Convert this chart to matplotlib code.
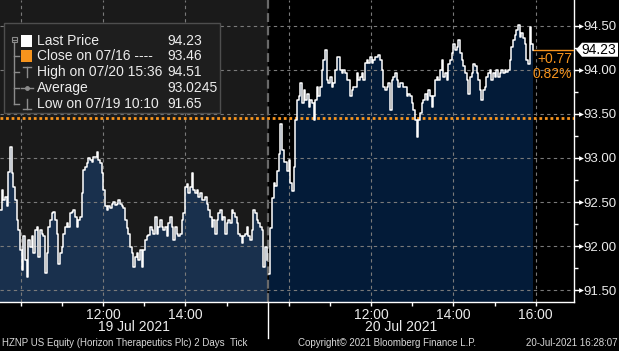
import numpy as np
import matplotlib
matplotlib.use('Agg')
import matplotlib.pyplot as plt
from matplotlib.patches import Polygon, Rectangle
from matplotlib.lines import Line2D
from matplotlib.transforms import blended_transform_factory

plt.rcParams['font.family'] = ['Liberation Sans', 'DejaVu Sans']

# HZNP ticks (about every 2.4 minutes)
day1_prices = [
    92.41, 92.64, 92.52, 92.56, 92.45, 92.84, 93.13, 92.83, 92.67, 92.52,
    92.30, 92.18, 91.95, 91.73, 92.11, 91.84, 91.65, 92.07, 91.99, 92.11,
    91.92, 92.18, 92.22, 91.88, 92.18, 92.14, 92.11, 91.69, 91.92, 92.22,
    92.30, 92.37, 92.39, 92.30, 92.14, 91.80, 91.92, 91.99, 92.14, 92.22,
    92.26, 92.22, 92.37, 92.39, 92.41, 92.33, 92.22, 92.30, 92.33, 92.60,
    92.86, 92.90, 92.94, 93.00, 92.98, 92.96, 93.01, 93.01, 93.07, 92.98,
    92.94, 92.83, 92.64, 92.45, 92.41, 92.45, 92.43, 92.48, 92.50, 92.47,
    92.48, 92.52, 92.48, 92.45, 92.43, 92.30, 92.20, 92.14, 91.99, 91.92,
    91.76, 91.88, 91.92, 91.84, 91.95, 91.76, 91.95, 92.07, 92.11, 92.12,
    92.22, 92.18, 92.14, 92.33, 92.14, 92.22, 92.30, 92.22, 92.18, 92.22,
    92.11, 92.26, 92.33, 92.22, 92.07, 92.22, 92.14, 92.11, 92.14, 92.30,
    92.37, 92.67, 92.71, 92.60, 92.67, 92.83, 92.64, 92.60, 92.64, 92.56,
    92.60, 92.52, 92.52, 92.56, 92.48, 92.41, 92.33, 92.22, 92.30, 92.14,
    92.30, 92.37, 92.41, 92.30, 92.33, 92.14, 92.26, 92.30, 92.26, 92.41,
    92.37, 92.33, 92.26, 92.14, 92.11, 92.03, 92.11, 92.14, 92.22, 92.11,
    92.07, 92.18, 92.41, 92.37, 92.30, 92.26, 92.22, 92.18, 91.76, 91.99,
    91.84,
]
day2_prices = [
    91.68, 92.20, 92.55, 92.72, 92.68, 92.85, 93.05, 93.39, 93.09, 92.96,
    92.95, 92.85, 92.98, 92.72, 92.62, 92.90, 93.43, 93.66, 93.70, 93.85,
    93.62, 93.77, 93.66, 93.73, 93.58, 93.66, 93.62, 93.43, 93.66, 93.81,
    93.70, 93.81, 94.00, 94.11, 94.23, 93.89, 93.85, 93.92, 93.81, 93.85,
    94.00, 94.15, 94.15, 94.00, 93.96, 94.00,
    93.96, 93.89, 93.89, 93.70, 93.77, 93.81, 93.81, 93.96, 93.89, 93.92,
    93.96, 93.89, 94.08, 94.11, 94.08, 94.15, 94.08, 94.11, 94.15, 94.15,
    94.17, 94.11, 94.00, 93.81, 93.77, 93.81, 93.85, 93.55, 93.89, 93.92,
    93.96, 93.89, 93.81, 93.85, 93.85, 93.81, 93.81, 93.70, 93.73, 93.70,
    93.62, 93.55, 93.43, 93.24, 93.43, 93.51, 93.62, 93.66,
    93.73, 93.66, 93.77, 93.70, 93.58, 93.70, 93.89, 93.92, 93.89, 94.00,
    94.11, 93.92, 93.96, 93.89, 94.07, 94.11, 94.19, 94.30, 94.23, 94.26,
    94.34, 94.19, 94.11, 94.04, 93.96, 93.89, 93.73, 93.92, 93.96, 94.07,
    94.04, 93.96, 93.89, 93.77, 93.66, 93.77, 93.81, 93.92, 93.96, 94.00,
    93.89, 93.96, 93.92, 94.00, 93.92, 93.96, 94.00, 93.96, 94.00, 93.98,
    94.00, 94.11, 94.26, 94.34, 94.40, 94.45, 94.51, 94.38, 94.42, 94.36,
    94.30, 94.11, 94.07, 94.49, 94.30, 94.23,
]
# minutes after 9:30 of each session
day1_times = np.linspace(0, 388, len(day1_prices))
day2_times = np.linspace(1, 386, len(day2_prices))

last_price = 94.23
prev_close = 93.46

y_ticks = [91.5, 92.0, 92.5, 93.0, 93.5, 94.0, 94.5]
y_minor = [91.75, 92.25, 92.75, 93.25, 93.75, 94.25]
hour_ticks = [30, 90, 150, 210, 270, 330, 420, 480, 540, 600, 660, 720, 780]
label_ticks = [150, 270, 540, 660, 780]
label_text = ['12:00', '14:00', '12:00', '14:00', '16:00']
grid_x = [30, 150, 270, 420, 540, 660, 780]
day_labels = ['19 Jul 2021', '20 Jul 2021']

legend_labels = ['Last Price', 'Close on 07/16 ----', 'High on 07/20 15:36',
                 'Average', 'Low on 07/19 10:10']
legend_values = ['94.23', '93.46', '94.51', '93.0245', '91.65']

BG1 = '#1a1a1a'
FILL1 = '#19304d'
FILL2 = '#031b38'
ORANGE = '#f7941d'
GRID = '#7a7a7a'
TXT = '#ececec'

W, H = 619, 351
XMAX = 835.6
YMIN, YMAX = 91.364, 94.795


def fx(x):
    return x / W


def fy(y):
    return 1 - y / H


fig = plt.figure(figsize=(W / 100, H / 100), dpi=100, facecolor='black')
ax = fig.add_axes([0, fy(302), fx(574), 302 / H])
ax.set_facecolor('black')
ax.set_xlim(0, XMAX)
ax.set_ylim(YMIN, YMAX)
ax.axvspan(0, 390, color=BG1, lw=0, zorder=0)

# the two sessions
t2 = 390 + day2_times
ax.fill_between(day1_times, day1_prices, YMIN, step='post', color=FILL1, lw=0, zorder=1)
ax.fill_between(t2, day2_prices, YMIN, step='post', color=FILL2, lw=0, zorder=1)
ax.plot(day1_times, day1_prices, drawstyle='steps-post', color='white', lw=1.1, zorder=4)
ax.plot(t2, day2_prices, drawstyle='steps-post', color='white', lw=1.1, zorder=4)

# grid
for y in y_ticks:
    ax.axhline(y, color=GRID, lw=0.8, ls=(0, (3, 3)), zorder=2)
for x in grid_x:
    ax.axvline(x, color=GRID, lw=0.8, ls=(0, (3, 3)), zorder=2)
ax.axvline(390, color='#6a6a6a', lw=1.6, ls=(0, (4, 2)), zorder=2.5)

# previous close and last price
ax.axhline(prev_close, color=ORANGE, lw=2, ls=(0, (1, 1)), zorder=3)
ax.plot([t2[-1], XMAX], [last_price, last_price], color=ORANGE, lw=1, zorder=3)

for s in ['left', 'top']:
    ax.spines[s].set_visible(False)
for s in ['right', 'bottom']:
    ax.spines[s].set_color('white')
    ax.spines[s].set_linewidth(1)

ax.yaxis.tick_right()
ax.set_yticks(y_ticks, ['%.2f' % v for v in y_ticks])
ax.set_yticks(y_minor, minor=True)
ax.tick_params(axis='y', which='major', length=4.3, width=1, colors='white',
               labelcolor=TXT, labelsize=9.5, pad=2.5)
ax.tick_params(axis='y', which='minor', length=3, width=1, colors='white')
ax.set_xticks(label_ticks, label_text)
ax.set_xticks(hour_ticks, minor=True)
ax.tick_params(axis='x', which='both', length=3, width=1, colors='white',
               labelcolor=TXT, labelsize=10, pad=1)

bt = blended_transform_factory(ax.transAxes, ax.transData)
for y in y_ticks:
    ax.plot([581 / 574], [y], marker='>', ms=3.5, color='white', mec='none',
            transform=bt, clip_on=False)

# last price tag on the axis
py = 1 / 88
tag = Polygon([(576 / 574, last_price), (582 / 574, last_price + 7 * py),
               (618 / 574, last_price + 7 * py), (618 / 574, last_price - 7 * py),
               (582 / 574, last_price - 7 * py)],
              closed=True, fc='white', ec='none', transform=bt, clip_on=False)
ax.add_patch(tag)
ax.text(599 / 574, last_price, '%.2f' % last_price, transform=bt, ha='center',
        va='center', color='black', fontsize=10, clip_on=False)
chg = last_price - prev_close
ax.text(572 / 574, last_price - 9.5 * py, '%+.2f' % chg, transform=bt, ha='right',
        va='center', color=ORANGE, fontsize=10)
ax.text(572 / 574, last_price - 24.5 * py, '%.2f%%' % (chg / prev_close * 100),
        transform=bt, ha='right', va='center', color=ORANGE, fontsize=10)

# dates, divider and footer
fig.text(fx(134), fy(327), day_labels[0], ha='center', va='center', color=TXT, fontsize=10)
fig.text(fx(401), fy(327), day_labels[1], ha='center', va='center', color=TXT, fontsize=10)
fig.add_artist(Line2D([fx(268), fx(268)], [fy(302), fy(338)], color='white', lw=1))
fig.text(fx(2), fy(343), 'HZNP US Equity (Horizon Therapeutics Plc) 2 Days  Tick',
         va='center', color='#d8d8d8', fontsize=7)
fig.text(fx(298), fy(343), 'Copyright\u00a9 2021 Bloomberg Finance L.P.',
         va='center', color='#d8d8d8', fontsize=7)
fig.text(fx(617), fy(343), '20-Jul-2021 16:28:07', ha='right',
         va='center', color='#d8d8d8', fontsize=7)

# legend panel
fig.add_artist(Rectangle((fx(4), fy(113)), 216 / W, 90 / H, transform=fig.transFigure,
                         fc='#1e1e1e', ec='#4e4e4e', lw=1))
rows_y = [41, 56, 72, 88, 104]
LG = '#8c8c8c'


def seg(x0, y0, x1, y1, c=LG, lw=1):
    fig.add_artist(Line2D([fx(x0), fx(x1)], [fy(y0), fy(y1)], color=c, lw=lw))


fig.add_artist(Rectangle((fx(11.5), fy(42)), 5 / W, 5 / H, transform=fig.transFigure,
                         fc='none', ec=LG, lw=0.8))
seg(12.5, 39.5, 15.5, 39.5, lw=0.8)
seg(14, 42, 14, rows_y[-1])
for y in rows_y[1:]:
    seg(14, y, 19, y)
fig.add_artist(Rectangle((fx(21), fy(rows_y[0] + 5.5)), 11 / W, 11 / H,
                         transform=fig.transFigure, fc='white', ec='none'))
fig.add_artist(Rectangle((fx(21), fy(rows_y[1] + 5.5)), 11 / W, 11 / H,
                         transform=fig.transFigure, fc=ORANGE, ec='none'))
y = rows_y[2]
seg(23, y - 5, 31, y - 5)
seg(27, y - 5, 27, y + 5)
y = rows_y[3]
seg(21, y, 33, y)
fig.add_artist(Line2D([fx(27)], [fy(y)], marker='o', ms=2.5, color=LG))
y = rows_y[4]
seg(27, y - 5, 27, y + 5)
seg(23, y + 5, 31, y + 5)
for y, lab, val in zip(rows_y, legend_labels, legend_values):
    fig.text(fx(37), fy(y), lab, va='center', color=TXT, fontsize=10)
    fig.text(fx(167), fy(y), val, va='center', color=TXT, fontsize=10)

fig.savefig('out.png', dpi=100, facecolor='black')
